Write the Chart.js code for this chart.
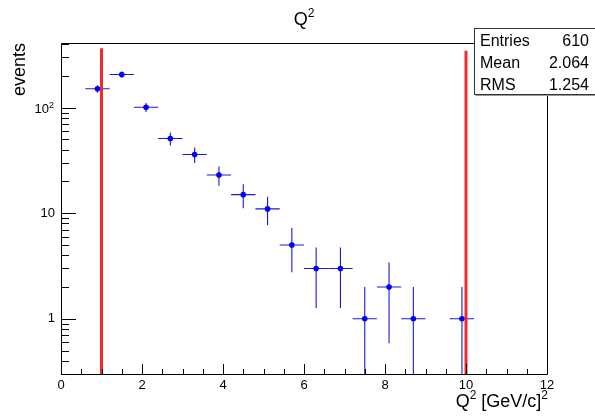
<!DOCTYPE html>
<html>
<head>
<meta charset="utf-8">
<script src="https://cdn.jsdelivr.net/npm/chart.js@4"></script>
<style>
  html, body { margin: 0; padding: 0; background: #fff; }
  #wrap { width: 595px; height: 418px; }
</style>
</head>
<body>
<div id="wrap"><canvas id="myChart" width="595" height="418"></canvas></div>
<script>
// histogram: 20 bins of width 0.6 from 0 to 12
const binCenters = [0.3, 0.9, 1.5, 2.1, 2.7, 3.3, 3.9, 4.5, 5.1, 5.7, 6.3, 6.9, 7.5, 8.1, 8.7, 9.3, 9.9, 10.5, 11.1, 11.7];
const counts = [0, 151, 206, 101, 51, 36, 23, 15, 11, 5, 3, 3, 1, 2, 1, 0, 1, 0, 0, 0];
const binWidth = 0.6;

// red cut lines
const cutX = [1, 10];
const cutTop = [365, 346];

const xTicks = [0, 2, 4, 6, 8, 10, 12];
const yTickVals = [0.3, 0.4, 0.5, 0.6, 0.7, 0.8, 0.9, 1, 2, 3, 4, 5, 6, 7, 8, 9, 10, 20, 30, 40, 50, 60, 70, 80, 90, 100, 200, 300, 400];
const yLabels = { 1: '1', 10: '10' };
const yMajor = [1, 10, 100];

const stats = [['Entries', '610'], ['Mean', '2.064'], ['RMS', '1.254']];

const FONT = "'Liberation Sans', Arial, Helvetica, sans-serif";
const BLUE = '#0000ff';

const points = [];
binCenters.forEach((c, i) => {
    if (counts[i] > 0) points.push({ x: c, y: counts[i] });
});

const cutDatasets = cutX.map((x, i) => ({
    type: 'line',
    data: [{ x: x, y: 0.3 }, { x: x, y: cutTop[i] }],
    borderColor: '#ef2a2e',
    borderWidth: 3,
    pointRadius: 0,
    fill: false
}));

// draws the bin-width and sqrt(N) error bars
const errorBars = {
    id: 'errorBars',
    beforeDatasetsDraw(chart) {
        const { ctx, chartArea, scales } = chart;
        const xs = scales.x, ys = scales.y;
        ctx.save();
        ctx.beginPath();
        ctx.rect(chartArea.left, chartArea.top, chartArea.right - chartArea.left, chartArea.bottom - chartArea.top);
        ctx.clip();
        ctx.strokeStyle = '#1c1ccc';
        ctx.lineWidth = 1.1;
        points.forEach(p => {
            const err = Math.sqrt(p.y);
            const py = ys.getPixelForValue(p.y);
            const px = xs.getPixelForValue(p.x);
            const x1 = xs.getPixelForValue(p.x - binWidth / 2);
            const x2 = xs.getPixelForValue(p.x + binWidth / 2);
            const yHi = ys.getPixelForValue(p.y + err);
            const lo = p.y - err;
            const yLo = lo > 0 ? ys.getPixelForValue(lo) : chartArea.bottom;
            ctx.beginPath();
            ctx.moveTo(x1, py);
            ctx.lineTo(x2, py);
            ctx.moveTo(px, yHi);
            ctx.lineTo(px, yLo);
            ctx.stroke();
        });
        ctx.restore();
    }
};

function drawSup(ctx, parts, x, y, align, big, small, rise) {
    // parts: [text, isSup]
    let total = 0;
    parts.forEach(p => {
        ctx.font = (p[1] ? small : big) + 'px ' + FONT;
        total += ctx.measureText(p[0]).width;
    });
    let cx = align === 'right' ? x - total : align === 'center' ? x - total / 2 : x;
    parts.forEach(p => {
        ctx.font = (p[1] ? small : big) + 'px ' + FONT;
        ctx.fillText(p[0], cx, p[1] ? y - rise : y);
        cx += ctx.measureText(p[0]).width;
    });
}

// frame, tick marks, titles and stats box
const decorations = {
    id: 'decorations',
    afterDraw(chart) {
        const { ctx, chartArea, scales } = chart;
        const xs = scales.x, ys = scales.y;
        const L = chartArea.left, R = chartArea.right, T = chartArea.top, B = chartArea.bottom;
        ctx.save();
        ctx.strokeStyle = '#000';
        ctx.lineWidth = 1;
        ctx.beginPath();
        ctx.rect(Math.round(L) + 0.5, Math.round(T) + 0.5, Math.round(R - L), Math.round(B - T));
        ctx.stroke();

        // x ticks
        ctx.beginPath();
        for (let v = 0.5; v < 12; v += 0.5) {
            const px = Math.round(xs.getPixelForValue(v)) + 0.5;
            const len = (v % 2 === 0) ? 10 : 5;
            ctx.moveTo(px, B);
            ctx.lineTo(px, B - len);
        }
        // y ticks
        yTickVals.forEach(v => {
            const py = Math.round(ys.getPixelForValue(v)) + 0.5;
            const len = yMajor.includes(v) ? 15 : 8;
            ctx.moveTo(L, py);
            ctx.lineTo(L + len, py);
        });
        ctx.stroke();

        ctx.fillStyle = '#000';
        ctx.textBaseline = 'alphabetic';
        // 10^2 tick label
        const p100 = ys.getPixelForValue(100);
        drawSup(ctx, [['10', false], ['2', true]], 54, p100 + 5, 'right', 13, 9, 5);
        // title
        drawSup(ctx, [['Q', false], ['2', true]], 304, 25, 'center', 18, 12, 8);
        // x axis title
        drawSup(ctx, [['Q', false], ['2', true], [' [GeV/c]', false], ['2', true]], 548, 407, 'right', 18, 12, 8);
        // y axis title
        ctx.save();
        ctx.translate(25, T);
        ctx.rotate(-Math.PI / 2);
        ctx.font = '18px ' + FONT;
        ctx.textAlign = 'right';
        ctx.fillText('events', 0, 0);
        ctx.restore();

        // stats box (runs off the right edge)
        const bx = 474.5, by = 28.5, bw = 130, bh = 66;
        ctx.fillStyle = '#fff';
        ctx.fillRect(bx, by, bw, bh);
        ctx.strokeStyle = '#333';
        ctx.strokeRect(bx, by, bw, bh);
        ctx.strokeStyle = '#999';
        ctx.beginPath();
        ctx.moveTo(bx + 1, by + bh + 1);
        ctx.lineTo(bx + bw + 1, by + bh + 1);
        ctx.stroke();
        ctx.fillStyle = '#000';
        ctx.font = '16px ' + FONT;
        stats.forEach((row, i) => {
            const yy = 46 + i * 22;
            ctx.textAlign = 'left';
            ctx.fillText(row[0], 480, yy);
            ctx.textAlign = 'right';
            ctx.fillText(row[1], 589, yy);
        });
        ctx.restore();
    }
};

const ctx = document.getElementById('myChart').getContext('2d');
const myChart = new Chart(ctx, {
    type: 'scatter',
    data: {
        datasets: [
            ...cutDatasets,
            {
                type: 'scatter',
                data: points,
                backgroundColor: BLUE,
                borderColor: BLUE,
                pointRadius: 2.8,
                pointBorderWidth: 0
            }
        ]
    },
    options: {
        responsive: false,
        animation: false,
        layout: { padding: { top: 43, right: 48, left: 0, bottom: 0 } },
        plugins: {
            legend: { display: false },
            tooltip: { enabled: false },
            title: { display: false }
        },
        scales: {
            x: {
                type: 'linear',
                min: 0,
                max: 12,
                afterBuildTicks(scale) {
                    scale.ticks = xTicks.map(v => ({ value: v }));
                },
                afterFit(scale) { scale.height = 44; },
                grid: { display: false, drawTicks: false },
                border: { display: false },
                ticks: {
                    color: '#000',
                    padding: 4,
                    maxRotation: 0,
                    autoSkip: false,
                    font: { family: FONT, size: 13 }
                }
            },
            y: {
                type: 'logarithmic',
                min: 0.3,
                max: 410,
                afterBuildTicks(scale) {
                    scale.ticks = yTickVals.map(v => ({ value: v }));
                },
                afterFit(scale) { scale.width = 61; },
                grid: { display: false, drawTicks: false },
                border: { display: false },
                ticks: {
                    color: '#000',
                    padding: 6,
                    autoSkip: false,
                    font: { family: FONT, size: 13 },
                    callback: (value) => yLabels[value] || ''
                }
            }
        }
    },
    plugins: [errorBars, decorations]
});
</script>
</body>
</html>
